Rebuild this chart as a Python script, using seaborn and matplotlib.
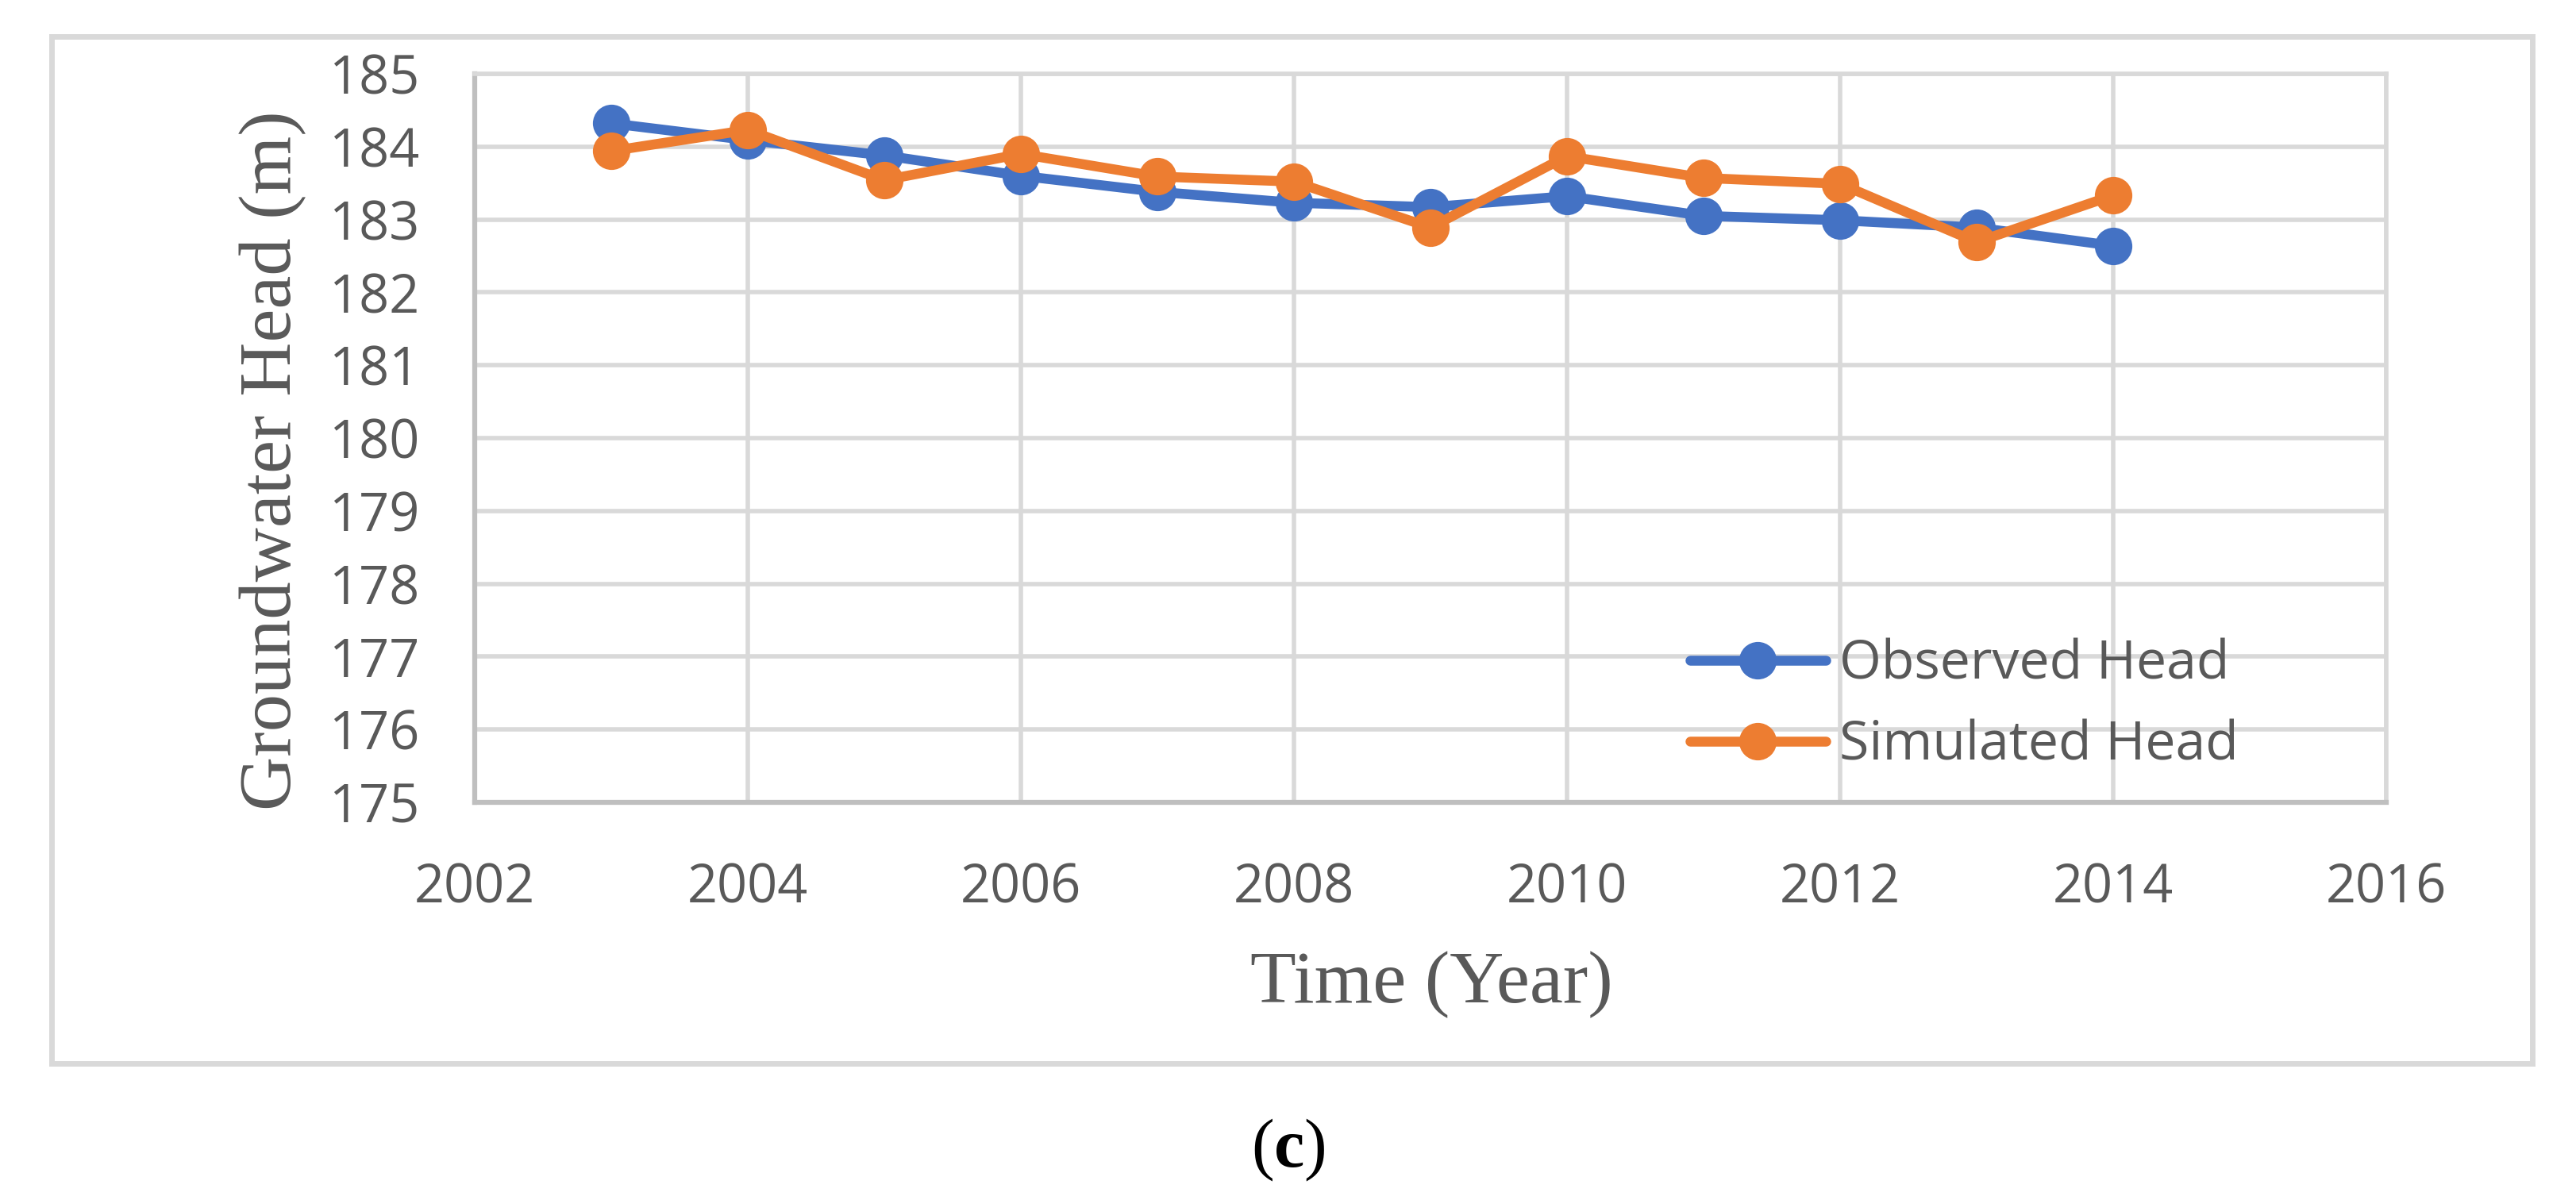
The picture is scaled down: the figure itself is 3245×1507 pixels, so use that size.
import numpy as np
import pandas as pd
import matplotlib
matplotlib.use("Agg")
import matplotlib.pyplot as plt
from matplotlib.patches import Rectangle
import seaborn as sns

# ========== DATA ==========
years = [2003, 2004, 2005, 2006, 2007, 2008, 2009, 2010, 2011, 2012, 2013, 2014]
observed_head = [184.32, 184.09, 183.88, 183.60, 183.38, 183.23, 183.17, 183.32, 183.05, 182.99, 182.89, 182.64]
simulated_head = [183.94, 184.23, 183.54, 183.90, 183.59, 183.52, 182.89, 183.87, 183.57, 183.49, 182.69, 183.33]
series_labels = ["Observed Head", "Simulated Head"]
x_ticks = [2002, 2004, 2006, 2008, 2010, 2012, 2014, 2016]
y_ticks = [175, 176, 177, 178, 179, 180, 181, 182, 183, 184, 185]

blue = "#4472C4"
orange = "#ED7D31"
text_gray = "#595959"
grid_gray = "#D9D9D9"

# ========== STYLE ==========
sns.set_style("white")
plt.rcParams["font.family"] = ["Open Sans", "DejaVu Sans"]
plt.rcParams["mathtext.fontset"] = "custom"
plt.rcParams["mathtext.rm"] = "Liberation Serif"
plt.rcParams["mathtext.bf"] = "Liberation Serif:bold"

fig = plt.figure(figsize=(32.45, 15.07), dpi=100)
ax = fig.add_axes([0.1843, 0.3291, 0.742, 0.6092])

# outer chart border
fig.patches.append(Rectangle((0.02, 0.1108), 0.963, 0.8587, transform=fig.transFigure,
                             fill=False, edgecolor=grid_gray, linewidth=5, zorder=0))

# ========== PLOT ==========
line_kw = dict(marker="o", markersize=34, markeredgewidth=0, linewidth=9)
sns.lineplot(x=years, y=observed_head, color=blue, label=series_labels[0], ax=ax, **line_kw)
sns.lineplot(x=years, y=simulated_head, color=orange, label=series_labels[1], ax=ax, **line_kw)

ax.set_xlim(2002, 2016)
ax.set_ylim(175, 185)
ax.set_xticks(x_ticks)
ax.set_yticks(y_ticks)
ax.tick_params(axis="both", length=0, labelsize=48, labelcolor=text_gray)
ax.tick_params(axis="x", pad=54)
ax.tick_params(axis="y", pad=50)
ax.grid(True, color=grid_gray, linewidth=4)
ax.set_axisbelow(True)
for side in ["top", "right"]:
    ax.spines[side].set_color(grid_gray)
    ax.spines[side].set_linewidth(4)
for side in ["left", "bottom"]:
    ax.spines[side].set_color("#BFBFBF")
    ax.spines[side].set_linewidth(4.5)
ax.set_xlabel("")
ax.set_ylabel("")

leg = ax.legend(loc="center left", bbox_to_anchor=(0.636, 0.133), frameon=False,
                fontsize=49, handlelength=2.5, handletextpad=0.25, labelspacing=0.5,
                borderpad=0, borderaxespad=0)
for t in leg.get_texts():
    t.set_color(text_gray)

# axis titles and panel tag
fig.text(0.106, 0.615, "Groundwater Head (m)", rotation=90, ha="center", va="center",
         family="Liberation Serif", fontsize=68, color=text_gray)
fig.text(0.5556, 0.177, "Time (Year)", ha="center", va="center",
         family="Liberation Serif", fontsize=68, color=text_gray)
fig.text(0.5, 0.038, r"($\mathbf{c}$)", ha="center", va="center",
         family="Liberation Serif", fontsize=62, color="black")

plt.savefig("out.png", dpi=100)
plt.close()
